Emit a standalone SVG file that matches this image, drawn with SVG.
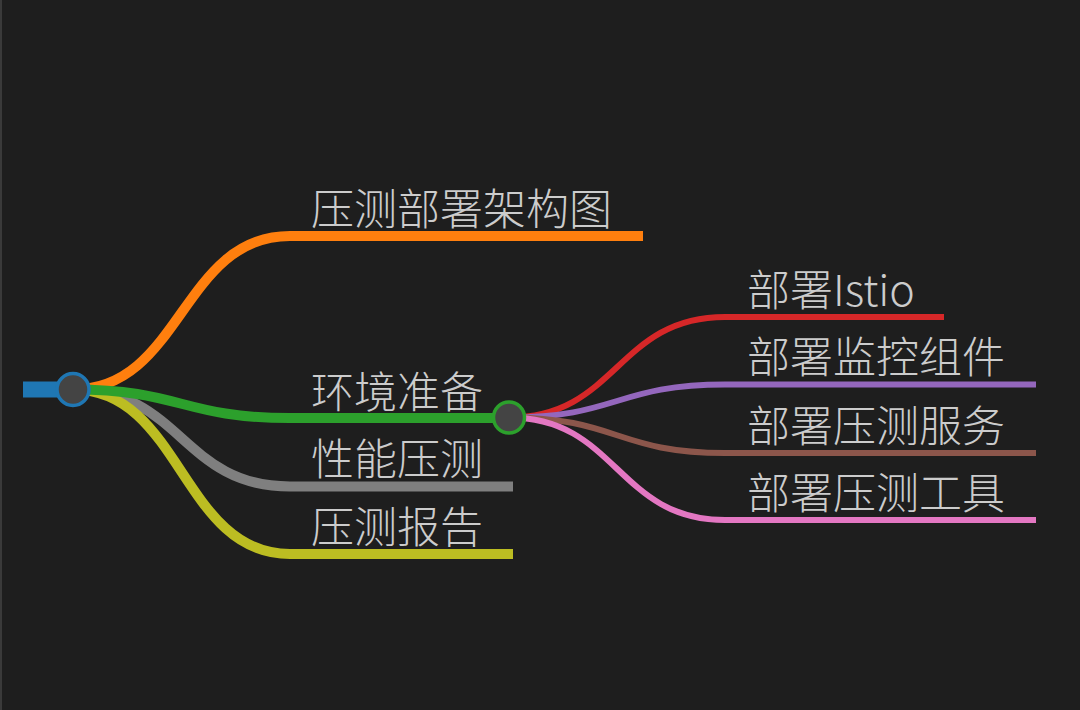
<svg xmlns="http://www.w3.org/2000/svg" width="1080" height="710" viewBox="0 0 1080 710">
<style>
.t{font-family:"Noto Sans CJK SC","Noto Sans",sans-serif;font-size:43px;font-weight:300;fill:#cccccc}
.l1{fill:none;stroke-width:10}
.l2{fill:none;stroke-width:6}
.dot{fill:#444444;stroke-width:3.5}
</style>
<rect width="1080" height="710" fill="#1e1e1e"/>
<rect x="0" y="0" width="2" height="710" fill="#3a3a3a"/>
<g id="connectors">
<path class="l1" stroke="#ff7f0e" d="M73 389.5 C181.5 389.5 181.5 236 290 236 L643 236"/>
<path class="l1" stroke="#7f7f7f" d="M73 389.5 C181.5 389.5 181.5 486.5 290 486.5 L513 486.5"/>
<path class="l1" stroke="#bcbd22" d="M73 389.5 C181.5 389.5 181.5 554 290 554 L513 554"/>
<path class="l1" stroke="#2ca02c" d="M73 389.5 C181.5 389.5 181.5 418 290 418 L509 418"/>
<path class="l2" stroke="#d62728" d="M509 417.5 C617 417.5 617 317 725 317 L944 317"/>
<path class="l2" stroke="#9467bd" d="M509 417.5 C617 417.5 617 384.5 725 384.5 L1036 384.5"/>
<path class="l2" stroke="#8c564b" d="M509 417.5 C617 417.5 617 453 725 453 L1036 453"/>
<path class="l2" stroke="#e377c2" d="M509 417.5 C617 417.5 617 520 725 520 L1036 520"/>
</g>
<g id="root">
<rect x="23" y="381.5" width="50" height="16" fill="#1f77b4"/>
<circle class="dot" cx="73" cy="389.5" r="16" stroke="#1f77b4"/>
</g>
<g id="n-arch"><text class="t" x="311" y="224.5">压测部署架构图</text></g>
<g id="n-env">
<text class="t" x="311" y="407.5">环境准备</text>
<circle class="dot" cx="509" cy="417.5" r="15.5" stroke="#2ca02c"/>
</g>
<g id="n-perf"><text class="t" x="311" y="475">性能压测</text></g>
<g id="n-report"><text class="t" x="311" y="542.5">压测报告</text></g>
<g id="n-istio"><text class="t" x="747" y="305.5">部署Istio</text></g>
<g id="n-monitor"><text class="t" x="747" y="373">部署监控组件</text></g>
<g id="n-service"><text class="t" x="747" y="441.5">部署压测服务</text></g>
<g id="n-tool"><text class="t" x="747" y="508.5">部署压测工具</text></g>
</svg>
